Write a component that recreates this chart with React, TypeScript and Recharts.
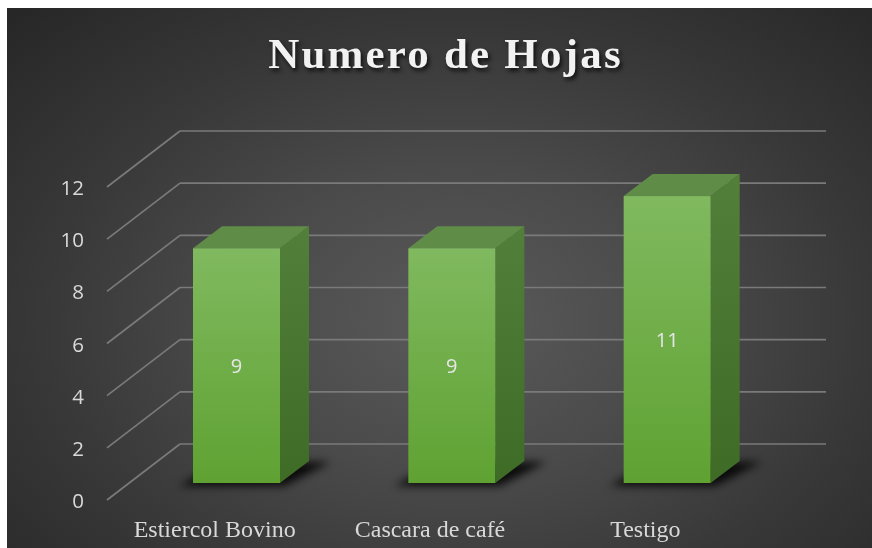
import React from "react";
import { BarChart, Bar, XAxis, YAxis, CartesianGrid, LabelList } from "recharts";

const categories = ["Estiercol Bovino", "Cascara de café", "Testigo"];
const values = [9, 9, 11];
const yTicks = [0, 2, 4, 6, 8, 10, 12];
const title = "Numero de Hojas";

const data = categories.map((name, i) => ({ name, value: values[i] }));

const W = 865;
const H = 540;
const DEPTH_X = 29;
const DEPTH_Y = 22;
const BACK_DX = 51;
const BACK_DY = 39;
const FRONT_DX = 22;
const FRONT_DY = 17;

const Bar3D = (props: any) => {
  const { x, y, width, height } = props;
  if (height == null || width == null) return null;
  const b = y + height;
  const shadow = `${x - 14},${b + 3} ${x + width + 4},${b + 3} ${x + width + DEPTH_X + 22},${b - DEPTH_Y + 1} ${x + DEPTH_X},${b - DEPTH_Y + 1}`;
  const side = `${x + width},${y} ${x + width + DEPTH_X},${y - DEPTH_Y} ${x + width + DEPTH_X},${b - DEPTH_Y} ${x + width},${b}`;
  const top = `${x},${y} ${x + DEPTH_X},${y - DEPTH_Y} ${x + width + DEPTH_X},${y - DEPTH_Y} ${x + width},${y}`;
  return (
    <g>
      <polygon points={shadow} fill="#000" opacity={0.85} filter="url(#shadowBlur)" />
      <polygon points={side} fill="url(#sideGrad)" />
      <polygon points={top} fill="#5f8d47" />
      <rect x={x} y={y} width={width} height={height} fill="url(#frontGrad)" />
    </g>
  );
};

const gridLine = (props: any) => {
  const { x1, x2, y1, index } = props;
  const stroke = "#7a7a7a";
  return (
    <g key={`g-${index}-${y1}`}>
      <line x1={x1 - FRONT_DX} y1={y1 + FRONT_DY} x2={x1 + BACK_DX} y2={y1 - BACK_DY} stroke={stroke} strokeWidth={1.7} />
      <line x1={x1 + BACK_DX} y1={y1 - BACK_DY} x2={x2 + BACK_DX} y2={y1 - BACK_DY} stroke={stroke} strokeWidth={1.7} />
    </g>
  );
};

const YTick = (props: any) => {
  const { y, payload } = props;
  return (
    <text
      x={77}
      y={y + FRONT_DY}
      textAnchor="end"
      dominantBaseline="central"
      fill="#d9d9d9"
      fontSize={20.5}
      fontFamily="'Open Sans', sans-serif"
    >
      {payload.value}
    </text>
  );
};

const XTick = (props: any) => {
  const { x, payload } = props;
  return (
    <text
      x={x - FRONT_DX}
      y={529}
      textAnchor="middle"
      fill="#d9d9d9"
      fontSize={24}
      fontFamily="'Liberation Serif', 'Times New Roman', serif"
    >
      {payload.value}
    </text>
  );
};

export default function App() {
  return (
    <div
      style={{
        position: "fixed",
        left: 7,
        top: 8,
        width: W,
        height: H,
        background:
          "radial-gradient(ellipse at 52% 58%, #5a5a5a 0%, #4a4a4a 35%, #383838 65%, #262626 100%)",
        overflow: "hidden",
      }}
    >
      <div
        style={{
          position: "absolute",
          top: 24,
          left: 0,
          width: "100%",
          textAlign: "center",
          paddingLeft: 12,
          boxSizing: "border-box",
          fontFamily: "'Liberation Serif', 'Times New Roman', serif",
          fontWeight: "bold",
          fontSize: 43,
          lineHeight: "43px",
          letterSpacing: 2.2,
          color: "#f2f2f2",
          textShadow: "2px 3px 4px rgba(0,0,0,0.75)",
        }}
      >
        {title}
      </div>
      <BarChart
        width={W}
        height={H}
        data={data}
        margin={{ top: 162, bottom: 25, left: 62, right: 97 }}
        style={{ position: "absolute", left: 0, top: 0 }}
      >
        <defs>
          <linearGradient id="frontGrad" x1="0" y1="0" x2="0" y2="1">
            <stop offset="0%" stopColor="#80b95f" />
            <stop offset="100%" stopColor="#5fa232" />
          </linearGradient>
          <linearGradient id="sideGrad" x1="0" y1="0" x2="0" y2="1">
            <stop offset="0%" stopColor="#52803a" />
            <stop offset="100%" stopColor="#3e6b25" />
          </linearGradient>
          <filter id="shadowBlur" x="-50%" y="-50%" width="200%" height="200%">
            <feGaussianBlur stdDeviation="4" />
          </filter>
        </defs>
        <CartesianGrid vertical={false} horizontal={gridLine} />
        <XAxis
          dataKey="name"
          height={40}
          axisLine={false}
          tickLine={false}
          tick={<XTick />}
          interval={0}
        />
        <YAxis
          width={60}
          domain={[0, 12]}
          ticks={yTicks}
          axisLine={false}
          tickLine={false}
          tick={<YTick />}
          interval={0}
        />
        <Bar dataKey="value" barSize={87} shape={<Bar3D />} isAnimationActive={false}>
          <LabelList
            dataKey="value"
            position="center"
            fill="#e6e6e6"
            fontSize={20}
            fontFamily="'Open Sans', sans-serif"
          />
        </Bar>
      </BarChart>
    </div>
  );
}
